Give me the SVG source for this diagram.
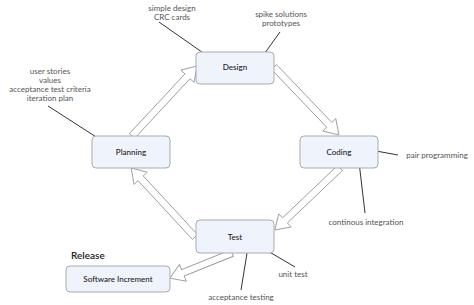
<svg xmlns="http://www.w3.org/2000/svg" width="474" height="305" viewBox="0 0 474 305">
<style>
.node{fill:#eef3fc;stroke:#a9abb0;stroke-width:1}
.nt{font-family:Lato,"Open Sans",sans-serif;font-size:8px;fill:#222;text-anchor:middle;font-weight:500}
.lbl{font-family:Lato,"Open Sans",sans-serif;font-size:8px;fill:#555;text-anchor:middle}
.arrow{fill:#fff;stroke:#9a9a9a;stroke-width:0.9;stroke-linejoin:miter}
.ann{stroke:#333;stroke-width:1;fill:none}
</style>
<rect width="474" height="305" fill="#fff"/>
<g id="connectors">
<path class="arrow" transform="translate(132,136) rotate(-47.1)" d="M0,-3.5 L81.5,-3.5 L81.5,-9 L95.5,0 L81.5,9 L81.5,3.5 L0,3.5 Z"/>
<path class="arrow" transform="translate(274,67) rotate(46.3)" d="M0,-3.5 L80,-3.5 L80,-9 L94,0 L80,9 L80,3.5 L0,3.5 Z"/>
<path class="arrow" transform="translate(340,168) rotate(136.4)" d="M0,-3.5 L76,-3.5 L76,-9 L90,0 L76,9 L76,3.5 L0,3.5 Z"/>
<path class="arrow" transform="translate(195,237) rotate(-132.8)" d="M0,-3.5 L80,-3.5 L80,-9 L94,0 L80,9 L80,3.5 L0,3.5 Z"/>
<path class="arrow" transform="translate(232,253) rotate(158)" d="M0,-3.5 L53,-3.5 L53,-9 L67,0 L53,9 L53,3.5 L0,3.5 Z"/>
<line class="ann" x1="159" y1="22" x2="209" y2="57"/>
<line class="ann" x1="280" y1="32" x2="262" y2="57"/>
<line class="ann" x1="48" y1="106" x2="104" y2="142"/>
<line class="ann" x1="365" y1="149" x2="398" y2="155"/>
<line class="ann" x1="359" y1="162" x2="365" y2="213"/>
<line class="ann" x1="261" y1="247" x2="295" y2="267"/>
<line class="ann" x1="248" y1="247" x2="241" y2="290"/>
</g>
<g id="design"><rect class="node" x="196" y="52" width="78" height="32" rx="4"/><text class="nt" x="235" y="70">Design</text></g>
<g id="planning"><rect class="node" x="92" y="136" width="78" height="32" rx="4"/><text class="nt" x="131" y="155">Planning</text></g>
<g id="coding"><rect class="node" x="300" y="136" width="78" height="32" rx="4"/><text class="nt" x="339" y="155">Coding</text></g>
<g id="test"><rect class="node" x="196" y="220" width="78" height="33" rx="4"/><text class="nt" x="235" y="240">Test</text></g>
<g id="software-increment"><rect class="node" x="66" y="266" width="104" height="26" rx="4"/><text class="nt" x="118" y="282">Software Increment</text></g>
<g id="labels">
<text x="71" y="259" style="font-family:Lato,'Open Sans',sans-serif;font-size:10px;fill:#222;font-weight:600">Release</text>
<text class="lbl" x="172" y="11">simple design</text>
<text class="lbl" x="172" y="20">CRC cards</text>
<text class="lbl" x="281" y="17">spike solutions</text>
<text class="lbl" x="281" y="26">prototypes</text>
<text class="lbl" x="50" y="74">user stories</text>
<text class="lbl" x="50" y="83">values</text>
<text class="lbl" x="50" y="92">acceptance test criteria</text>
<text class="lbl" x="50" y="101">iteration plan</text>
<text class="lbl" x="437" y="158">pair programming</text>
<text class="lbl" x="366" y="225">continous integration</text>
<text class="lbl" x="293" y="277">unit test</text>
<text class="lbl" x="241" y="300">acceptance testing</text>
</g>
</svg>
